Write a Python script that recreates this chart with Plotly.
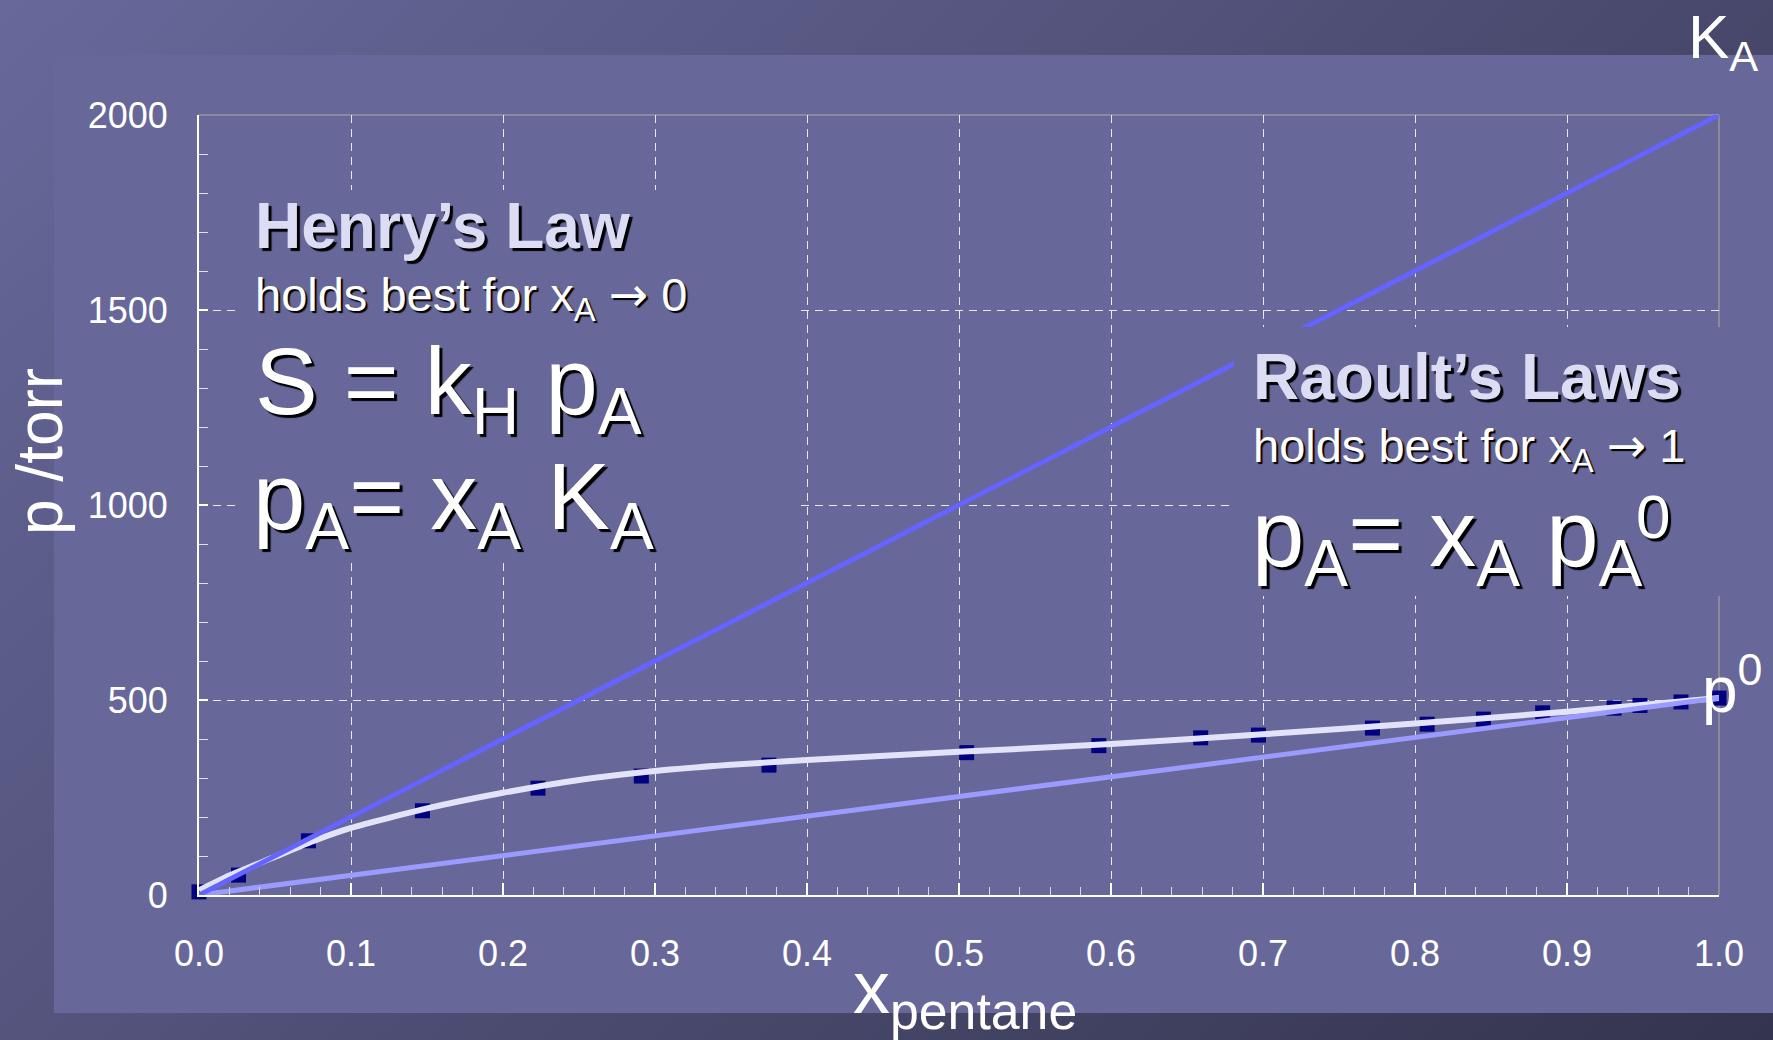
import base64
import plotly.graph_objects as go

# ---------------- data ----------------
# measured vapour pressure of pentane (markers)
x_meas = [0.0, 0.026, 0.072, 0.147, 0.223, 0.291, 0.375, 0.505, 0.592, 0.659,
          0.697, 0.772, 0.808, 0.845, 0.884, 0.931, 0.948, 0.975, 1.0]
p_meas = [8, 51, 139, 216, 274, 305, 333, 365, 383, 403,
          410, 428, 438, 451, 467, 479, 486, 495, 505]

# smooth curve through the data (white)
x_curve = [0.0, 0.02, 0.05, 0.075, 0.1, 0.15, 0.2, 0.25, 0.3, 0.35,
           0.4, 0.5, 0.6, 0.7, 0.8, 0.9, 1.0]
p_curve = [12, 50, 98, 138, 172, 222, 262, 295, 318, 334,
           346, 367, 387, 412, 440, 470, 505]

# limiting laws
x_law = [0.0, 1.0]
p_henry = [0, 2000]     # p = x K_A
p_raoult = [0, 505]     # p = x p0

x_tickvals = [0.0, 0.1, 0.2, 0.3, 0.4, 0.5, 0.6, 0.7, 0.8, 0.9, 1.0]
x_ticktext = ["0.0", "0.1", "0.2", "0.3", "0.4", "0.5", "0.6", "0.7", "0.8", "0.9", "1.0"]
y_tickvals = [0, 500, 1000, 1500, 2000]
y_ticktext = ["0", "500", "1000", "1500", "2000"]

# ---------------- layout geometry ----------------
W, H = 1773, 1040
L, R, T, B = 199, 1719, 115, 895
FONT = "Liberation Sans, Arial, sans-serif"
PANEL = "#676799"


def pxx(v):
    return (v - L) / (R - L)


def pxy(v):
    return (B - v) / (B - T)


fig = go.Figure()

fig.add_trace(go.Scatter(x=x_meas, y=p_meas, mode="markers",
                         marker=dict(symbol="square", size=15, color="#000080"),
                         cliponaxis=False, hoverinfo="skip"))
fig.add_trace(go.Scatter(x=x_curve, y=p_curve, mode="lines",
                         line=dict(color="#e2e2f8", width=6, shape="spline", smoothing=0.6),
                         cliponaxis=False, hoverinfo="skip"))
fig.add_trace(go.Scatter(x=x_law, y=p_raoult, mode="lines",
                         line=dict(color="#9a9aff", width=5),
                         cliponaxis=False, hoverinfo="skip"))
fig.add_trace(go.Scatter(x=x_law, y=p_henry, mode="lines",
                         line=dict(color="#6464ff", width=5),
                         cliponaxis=False, hoverinfo="skip"))

# background gradient image
svg = ('<svg xmlns="http://www.w3.org/2000/svg" width="1773" height="1040" preserveAspectRatio="none">'
       '<defs><linearGradient id="g" x1="0" y1="0" x2="1.174" y2="0.713">'
       '<stop offset="0" stop-color="#68689b"/><stop offset="1" stop-color="#34344e"/>'
       '</linearGradient></defs><rect width="1773" height="1040" fill="url(#g)"/></svg>')
src = "data:image/svg+xml;base64," + base64.b64encode(svg.encode()).decode()

images = [dict(source=src, xref="paper", yref="paper", x=pxx(0), y=pxy(0),
               sizex=W / (R - L), sizey=H / (B - T), xanchor="left", yanchor="top",
               sizing="stretch", layer="below")]

shapes = [
    # inner panel
    dict(type="rect", xref="paper", yref="paper", x0=pxx(54), x1=pxx(W + 5),
         y0=pxy(1013), y1=pxy(55), fillcolor=PANEL, line=dict(width=0), layer="below"),
    # top and right border of plot area
    dict(type="line", xref="paper", yref="paper", x0=0, x1=1, y0=1, y1=1,
         line=dict(color="#8a8a9a", width=2), layer="between"),
    dict(type="line", xref="paper", yref="paper", x0=1, x1=1, y0=0, y1=1,
         line=dict(color="#8a8a9a", width=2), layer="between"),
    # opaque text boxes
    dict(type="rect", xref="paper", yref="paper", x0=pxx(235), x1=pxx(798),
         y0=pxy(562), y1=pxy(190), fillcolor=PANEL, line=dict(width=0), layer="above"),
    dict(type="rect", xref="paper", yref="paper", x0=pxx(1234), x1=pxx(1752),
         y0=pxy(596), y1=pxy(327), fillcolor=PANEL, line=dict(width=0), layer="above"),
]

SH_BIG = "3px 3px 1px #000000"
SH_SMALL = "2px 2px 1px #000000"
ARROW = "<span style='font-family:DejaVu Sans'>→</span>"


def ann(text, x, baseline, size, sup=False, color="white", weight="normal",
        shadow=SH_BIG, xanchor="left"):
    top = baseline - (1.0535 if sup else 0.905) * size - 1
    return dict(text=text, xref="paper", yref="paper", x=pxx(x), y=pxy(top),
                xanchor=xanchor, yanchor="top", showarrow=False,
                font=dict(family=FONT, size=size, color=color, weight=weight, shadow=shadow))


annotations = [
    ann("Henry’s Law", 253, 247, 64, color="#dcdcf5", weight="bold"),
    ann("holds best for x<sub>A</sub> " + ARROW + " 0", 253, 309, 47, shadow=SH_SMALL),
    ann("S = k<sub>H</sub> p<sub>A</sub>", 253, 413, 94),
    ann("p<sub>A</sub>= x<sub>A</sub> K<sub>A</sub>", 251, 528, 94),
    ann("Raoult’s Laws", 1251, 398, 64, color="#dcdcf5", weight="bold"),
    ann("holds best for x<sub>A</sub> " + ARROW + " 1", 1251, 460, 47, shadow=SH_SMALL),
    ann("p<sub>A</sub>= x<sub>A</sub> p<sub>A</sub>", 1250, 565, 94),
    ann("0", 1634, 537, 62),
    ann("K<sub>A</sub>", 1686, 57, 62, shadow=None),
    ann("p<sup>0</sup>", 1700, 710, 64, sup=True, shadow=None),
    ann("x<sub>pentane</sub>", 965, 1012, 74, shadow=None, xanchor="center"),
    dict(text="p /torr", xref="paper", yref="paper", x=pxx(40), y=pxy(452),
         xanchor="center", yanchor="middle", showarrow=False, textangle=-90,
         font=dict(family=FONT, size=64, color="white")),
]
for a in annotations:
    if a["font"].get("shadow") is None:
        a["font"].pop("shadow", None)

fig.update_layout(
    width=W, height=H,
    margin=dict(l=L, r=W - R, t=T, b=H - B, pad=0),
    paper_bgcolor="#5a5a88", plot_bgcolor=PANEL,
    showlegend=False, hovermode=False,
    font=dict(family=FONT, color="white"),
    images=images, shapes=shapes, annotations=annotations,
    xaxis=dict(range=[0, 1], tickvals=x_tickvals, ticktext=x_ticktext,
               ticks="inside", ticklen=12, tickwidth=2, tickcolor="white",
               showline=True, linecolor="white", linewidth=2,
               showgrid=True, gridcolor="rgba(255,255,255,0.85)", gridwidth=1,
               griddash="8px,6px", zeroline=False,
               minor=dict(dtick=0.02, ticks="inside", ticklen=8, tickwidth=1,
                          tickcolor="#d8d8e8", showgrid=False),
               tickfont=dict(family=FONT, size=36, color="white"),
               ticklabelstandoff=26),
    yaxis=dict(range=[0, 2000], tickvals=y_tickvals, ticktext=y_ticktext,
               ticks="inside", ticklen=9, tickwidth=2, tickcolor="white",
               showline=True, linecolor="white", linewidth=2,
               showgrid=True, gridcolor="rgba(255,255,255,0.85)", gridwidth=1,
               griddash="8px,6px", zeroline=False,
               minor=dict(dtick=100, ticks="inside", ticklen=9, tickwidth=1,
                          tickcolor="#e0e0ec", showgrid=False),
               tickfont=dict(family=FONT, size=36, color="white"),
               ticklabelstandoff=22),
)

fig.write_html("out.html", config={"displayModeBar": False},
               post_script="document.body.style.margin='0';document.body.style.overflow='hidden';")
